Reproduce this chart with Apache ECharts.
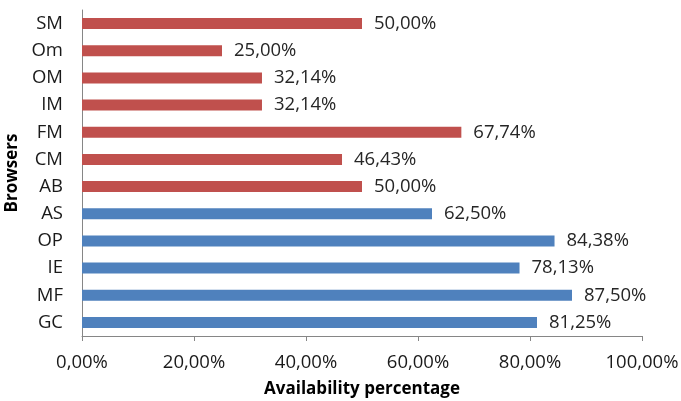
<!DOCTYPE html>
<html><head><meta charset="utf-8">
<script src="https://cdn.jsdelivr.net/npm/echarts@6/dist/echarts.min.js"></script>
<style>html,body{margin:0;padding:0;background:#fff}#c{width:681px;height:401px}</style>
</head><body><div id="c"></div>
<script>
const categories = ['GC','MF','IE','OP','AS','AB','CM','FM','IM','OM','Om','SM'];
const values = [81.25,87.50,78.13,84.38,62.50,50.00,46.43,67.74,32.14,32.14,25.00,50.00];
const groups = ['blue','blue','blue','blue','blue','red','red','red','red','red','red','red'];
const xTicks = [0,20,40,60,80,100];
const colorMap = {blue:'#4F81BD', red:'#C0504D'};
const FONT = 'Open Sans';
const fmt = v => v.toFixed(2).replace('.', ',') + '%';
const chart = echarts.init(document.getElementById('c'), null, {renderer:'canvas'});
chart.setOption({
  animation:false,
  grid:{left:82,right:39,top:10,bottom:65,containLabel:false,outerBoundsMode:'none'},
  xAxis:{type:'value',min:xTicks[0],max:xTicks[xTicks.length-1],interval:xTicks[1]-xTicks[0],
    name:'Availability percentage',nameLocation:'middle',nameGap:45,
    nameTextStyle:{fontFamily:FONT,fontSize:17,fontWeight:'bold',color:'#000'},
    axisLine:{show:true,lineStyle:{color:'#868686'}},
    axisTick:{show:true,length:5,lineStyle:{color:'#868686'}},
    splitLine:{show:false},
    axisLabel:{margin:17,fontFamily:FONT,fontSize:18.5,color:'#1a1a1a',formatter:v=>fmt(v)}},
  yAxis:{type:'category',data:categories,
    name:'Browsers',nameLocation:'middle',nameGap:58,
    nameTextStyle:{fontFamily:FONT,fontSize:17,fontWeight:'bold',color:'#000'},
    axisLine:{show:true,lineStyle:{color:'#868686'}},
    axisTick:{show:false},
    axisLabel:{margin:19,fontFamily:FONT,fontSize:18.5,color:'#1a1a1a'}},
  series:[{type:'bar',barWidth:11,
    data:values.map((v,i)=>({value:v,itemStyle:{color:colorMap[groups[i]]}})),
    label:{show:true,position:'right',distance:12,fontFamily:FONT,fontSize:18.5,color:'#262626',formatter:p=>fmt(p.value)}}]
});
</script></body></html>
